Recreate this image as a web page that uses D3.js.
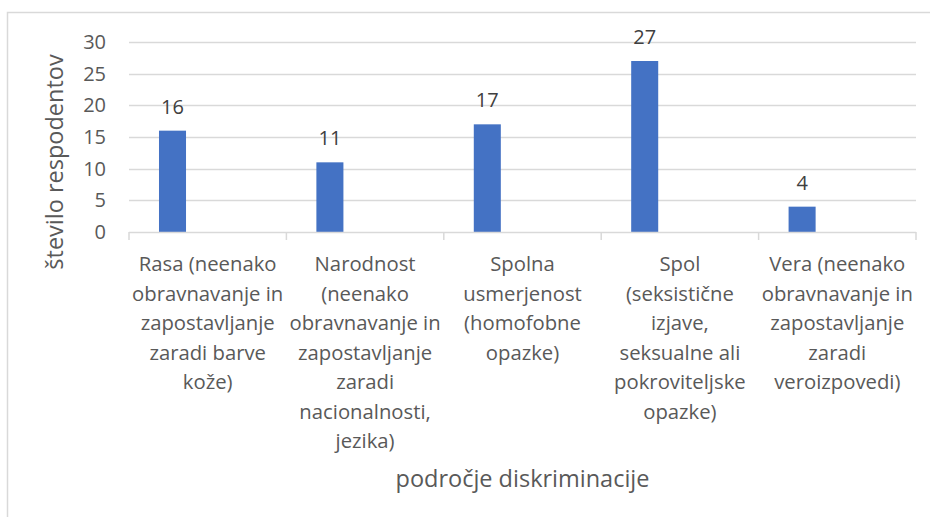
<!DOCTYPE html>
<html>
<head>
    <meta charset="utf-8">
    <title>diskriminacija</title>
    <script src="https://d3js.org/d3.v7.min.js"></script>
    <style> body { margin: 0px; background: #fff; } </style>
</head>
<body>
<svg width="930" height="517"></svg>
<script>

    // data
    var categories = [
        "Rasa (neenako obravnavanje in zapostavljanje zaradi barve kože)",
        "Narodnost (neenako obravnavanje in zapostavljanje zaradi nacionalnosti, jezika)",
        "Spolna usmerjenost (homofobne opazke)",
        "Spol (seksistične izjave, seksualne ali pokroviteljske opazke)",
        "Vera (neenako obravnavanje in zapostavljanje zaradi veroizpovedi)"
    ];
    // label lines as wrapped in the picture
    var categoryLines = [
        ["Rasa (neenako", "obravnavanje in", "zapostavljanje", "zaradi barve", "kože)"],
        ["Narodnost", "(neenako", "obravnavanje in", "zapostavljanje", "zaradi", "nacionalnosti,", "jezika)"],
        ["Spolna", "usmerjenost", "(homofobne", "opazke)"],
        ["Spol", "(seksistične", "izjave,", "seksualne ali", "pokroviteljske", "opazke)"],
        ["Vera (neenako", "obravnavanje in", "zapostavljanje", "zaradi", "veroizpovedi)"]
    ];
    var values = [16, 11, 17, 27, 4];
    var series = ["respondenti", "prazno"];
    var yTicks = [0, 5, 10, 15, 20, 25, 30];
    var yTitle = "število respodentov";
    var xTitle = "področje diskriminacije";

    var svg = d3.select("svg"),
        font = "'Open Sans', sans-serif",
        textColor = "#595959",
        gridColor = "#d9d9d9",
        plotLeft = 129, plotRight = 916, plotTop = 42, plotBottom = 232;

    // chart border (cut off on right and bottom)
    svg.append("rect")
        .attr("x", 7.5).attr("y", 12.5)
        .attr("width", 1000).attr("height", 600)
        .attr("fill", "none")
        .attr("stroke", gridColor)
        .attr("stroke-width", 1.5);

    var x = d3.scaleBand().domain(categories).range([plotLeft, plotRight]).padding(0);
    var x1 = d3.scaleBand().domain(series).range([0, x.bandwidth()])
        .paddingInner(0.616).paddingOuter(0.426);
    var y = d3.scaleLinear().domain([0, 30]).range([plotBottom, plotTop]);

    // gridlines
    svg.append("g").selectAll("line")
        .data(yTicks.filter(function (d) { return d > 0; }))
        .enter().append("line")
        .attr("x1", plotLeft).attr("x2", plotRight)
        .attr("y1", function (d) { return Math.round(y(d)) + 0.5; })
        .attr("y2", function (d) { return Math.round(y(d)) + 0.5; })
        .attr("stroke", gridColor)
        .attr("stroke-width", 1.5);

    // y axis labels
    var yAxis = d3.axisLeft(y).tickValues(yTicks).tickSize(0).tickPadding(0);
    var gy = svg.append("g").attr("transform", "translate(106,0)").call(yAxis);
    gy.select(".domain").remove();
    gy.selectAll("text")
        .attr("font-family", font)
        .attr("font-size", 20)
        .attr("fill", textColor);

    // bars
    svg.append("g").selectAll("rect")
        .data(values)
        .enter().append("rect")
        .attr("x", function (d, i) { return x(categories[i]) + x1(series[0]); })
        .attr("width", x1.bandwidth())
        .attr("y", function (d) { return y(d); })
        .attr("height", function (d) { return y(0) - y(d); })
        .attr("fill", "#4472c4");

    // data labels
    svg.append("g").selectAll("text")
        .data(values)
        .enter().append("text")
        .attr("x", function (d, i) { return x(categories[i]) + x1(series[0]) + x1.bandwidth() / 2; })
        .attr("y", function (d) { return y(d) - 17; })
        .attr("text-anchor", "middle")
        .attr("font-family", font)
        .attr("font-size", 20)
        .attr("fill", "#404040")
        .text(function (d) { return d; });

    // x axis line and ticks
    var gx = svg.append("g");
    gx.append("line")
        .attr("x1", plotLeft).attr("x2", plotRight)
        .attr("y1", plotBottom + 0.5).attr("y2", plotBottom + 0.5)
        .attr("stroke", gridColor).attr("stroke-width", 1.5);
    gx.selectAll(".tick")
        .data(categories.concat([null]))
        .enter().append("line")
        .attr("x1", function (d) { return d ? x(d) : plotRight; })
        .attr("x2", function (d) { return d ? x(d) : plotRight; })
        .attr("y1", plotBottom).attr("y2", plotBottom + 8)
        .attr("stroke", gridColor).attr("stroke-width", 1.5);

    // category labels
    var labels = gx.selectAll(".cat")
        .data(categories)
        .enter().append("text")
        .attr("text-anchor", "middle")
        .attr("font-family", font)
        .attr("font-size", 20.3)
        .attr("fill", textColor);
    labels.each(function (d, i) {
        d3.select(this).selectAll("tspan")
            .data(categoryLines[i])
            .enter().append("tspan")
            .attr("x", x(d) + x.bandwidth() / 2)
            .attr("y", function (t, j) { return plotBottom + 39 + j * 29.5; })
            .text(function (t) { return t; });
    });

    // axis titles
    svg.append("text")
        .attr("transform", "translate(63," + 162 + ") rotate(-90)")
        .attr("text-anchor", "middle")
        .attr("font-family", font)
        .attr("font-size", 23.5)
        .attr("fill", textColor)
        .text(yTitle);

    svg.append("text")
        .attr("x", (plotLeft + plotRight) / 2)
        .attr("y", 487)
        .attr("text-anchor", "middle")
        .attr("font-family", font)
        .attr("font-size", 23.5)
        .attr("fill", textColor)
        .text(xTitle);
</script>
</body>
</html>
